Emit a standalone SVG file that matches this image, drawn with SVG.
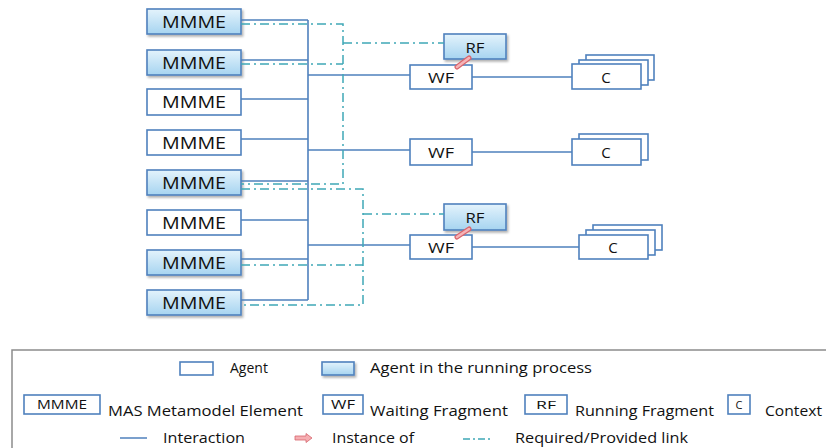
<svg xmlns="http://www.w3.org/2000/svg" width="826" height="448" viewBox="0 0 826 448">
<defs>
<linearGradient id="run" x1="0" y1="0" x2="0" y2="1">
<stop offset="0" stop-color="#e4f3fc"/>
<stop offset="1" stop-color="#a6d4f0"/>
</linearGradient>
<filter id="sh" x="-10%" y="-20%" width="130%" height="160%">
<feDropShadow dx="1.5" dy="2" stdDeviation="1.2" flood-color="#000" flood-opacity="0.3"/>
</filter>
</defs>
<style>
.box{fill:#fff;stroke:#4f81bd;stroke-width:1.6}
.rbox{fill:url(#run);stroke:#4f81bd;stroke-width:1.6;filter:url(#sh)}
.t{font-family:"Open Sans","Liberation Sans",sans-serif;fill:#111;text-anchor:middle}
.lt{font-family:"Open Sans","Liberation Sans",sans-serif;fill:#111;font-size:14px}
.ln{fill:none;stroke:#4f81bd;stroke-width:1.6}
.dd{fill:none;stroke:#3fa8b6;stroke-width:1.5;stroke-dasharray:9 4 2 4}
.io{stroke:#d9646c;stroke-width:5;stroke-linecap:round}
.ii{stroke:#f5b3b7;stroke-width:2.6;stroke-linecap:round}
</style>
<rect width="826" height="448" fill="#fff"/>

<g id="mmme1"><rect class="rbox" x="147" y="9" width="94" height="25"/><text class="t" x="194" y="28" font-size="16" textLength="64" lengthAdjust="spacingAndGlyphs">MMME</text></g>
<g id="mmme2"><rect class="rbox" x="147" y="50" width="94" height="25"/><text class="t" x="194" y="69" font-size="16" textLength="64" lengthAdjust="spacingAndGlyphs">MMME</text></g>
<g id="mmme3"><rect class="box" x="147" y="89" width="94" height="26"/><text class="t" x="194" y="108" font-size="16" textLength="64" lengthAdjust="spacingAndGlyphs">MMME</text></g>
<g id="mmme4"><rect class="box" x="147" y="130" width="94" height="25"/><text class="t" x="194" y="149" font-size="16" textLength="64" lengthAdjust="spacingAndGlyphs">MMME</text></g>
<g id="mmme5"><rect class="rbox" x="147" y="170" width="94" height="25"/><text class="t" x="194" y="189" font-size="16" textLength="64" lengthAdjust="spacingAndGlyphs">MMME</text></g>
<g id="mmme6"><rect class="box" x="147" y="210" width="94" height="25"/><text class="t" x="194" y="229" font-size="16" textLength="64" lengthAdjust="spacingAndGlyphs">MMME</text></g>
<g id="mmme7"><rect class="rbox" x="147" y="250" width="94" height="25"/><text class="t" x="194" y="269" font-size="16" textLength="64" lengthAdjust="spacingAndGlyphs">MMME</text></g>
<g id="mmme8"><rect class="rbox" x="147" y="290" width="94" height="25"/><text class="t" x="194" y="309" font-size="16" textLength="64" lengthAdjust="spacingAndGlyphs">MMME</text></g>

<g id="rf1"><rect class="rbox" x="444" y="34" width="62" height="25"/><text class="t" x="475" y="53" font-size="15" textLength="19" lengthAdjust="spacingAndGlyphs">RF</text></g>
<g id="wf1"><rect class="box" x="410" y="65" width="62" height="24"/><text class="t" x="441" y="83" font-size="15" textLength="26" lengthAdjust="spacingAndGlyphs">WF</text></g>
<g id="wf2"><rect class="box" x="410" y="139" width="62" height="26"/><text class="t" x="441" y="158" font-size="15" textLength="26" lengthAdjust="spacingAndGlyphs">WF</text></g>
<g id="rf2"><rect class="rbox" x="444" y="204" width="62" height="26"/><text class="t" x="475" y="223" font-size="15" textLength="19" lengthAdjust="spacingAndGlyphs">RF</text></g>
<g id="wf3"><rect class="box" x="410" y="235" width="62" height="24"/><text class="t" x="441" y="253" font-size="15" textLength="26" lengthAdjust="spacingAndGlyphs">WF</text></g>

<g id="c1">
<rect class="box" x="586" y="55" width="68" height="25"/>
<rect class="box" x="579" y="60" width="69" height="25"/>
<rect class="box" x="572" y="64" width="69" height="25"/>
<text class="t" x="606" y="83" font-size="15">C</text>
</g>
<g id="c2">
<rect class="box" x="579" y="134" width="69" height="26"/>
<rect class="box" x="572" y="139" width="69" height="26"/>
<text class="t" x="606" y="158" font-size="15">C</text>
</g>
<g id="c3">
<rect class="box" x="593" y="225" width="69" height="25"/>
<rect class="box" x="586" y="230" width="69" height="25"/>
<rect class="box" x="579" y="235" width="69" height="24"/>
<text class="t" x="613" y="253" font-size="15">C</text>
</g>

<g id="connectors">
<path class="ln" d="M241 20H308M241 60H308M241 99H308M241 139H308M241 181H308M241 220H308M241 259H308M241 300H308M308 20V300"/>
<path class="ln" d="M308 75H410M308 150H410M308 245H410"/>
<path class="ln" d="M472 77H572M472 152H572M472 247H579"/>
<path class="dd" d="M241 24H343V184H241M241 64H343M343 43H444"/>
<path class="dd" d="M241 189H363V305H241M241 265H363M363 214H444"/>
<line class="io" x1="469" y1="58" x2="457" y2="67"/>
<line class="ii" x1="469" y1="58" x2="457" y2="67"/>
<line class="io" x1="469" y1="229" x2="457" y2="237"/>
<line class="ii" x1="469" y1="229" x2="457" y2="237"/>
</g>

<g id="legend">
<path d="M12 449V350H827" fill="none" stroke="#8c8c8c" stroke-width="1.5"/>
<rect class="box" x="180" y="362" width="33" height="13" stroke-width="1.3"/>
<text class="lt" x="230" y="373">Agent</text>
<rect class="rbox" x="322" y="362" width="32" height="13" stroke-width="1.3"/>
<text class="lt" x="370" y="373" textLength="222" lengthAdjust="spacingAndGlyphs">Agent in the running process</text>

<rect class="box" x="24" y="395" width="76" height="19" stroke-width="1.3"/>
<text class="t" x="62" y="409" font-size="12" textLength="50" lengthAdjust="spacingAndGlyphs">MMME</text>
<text class="lt" x="108" y="416" textLength="195" lengthAdjust="spacingAndGlyphs">MAS Metamodel  Element</text>
<rect class="box" x="323" y="395" width="40" height="19" stroke-width="1.3"/>
<text class="t" x="343" y="409" font-size="12" textLength="24" lengthAdjust="spacingAndGlyphs">WF</text>
<text class="lt" x="370" y="416" textLength="138" lengthAdjust="spacingAndGlyphs">Waiting Fragment</text>
<rect class="box" x="525" y="395" width="42" height="19" stroke-width="1.3"/>
<text class="t" x="546" y="409" font-size="11" textLength="20" lengthAdjust="spacingAndGlyphs">RF</text>
<text class="lt" x="575" y="416" textLength="139" lengthAdjust="spacingAndGlyphs">Running Fragment</text>
<rect class="box" x="728" y="395" width="22" height="19" stroke-width="1.3"/>
<text class="t" x="739" y="409" font-size="11">C</text>
<text class="lt" x="765" y="416" textLength="57" lengthAdjust="spacingAndGlyphs">Context</text>

<line x1="120" y1="438" x2="147" y2="438" stroke="#4f81bd" stroke-width="1.5"/>
<text class="lt" x="163" y="443" textLength="82" lengthAdjust="spacingAndGlyphs">Interaction</text>
<path d="M295 436H306V433.5L312 438L306 442.5V440H295Z" fill="#f5aeb2" stroke="#d7646c" stroke-width="0.8"/>
<text class="lt" x="332" y="443" textLength="82" lengthAdjust="spacingAndGlyphs">Instance of</text>
<line x1="463" y1="439" x2="492" y2="439" stroke="#3fa8b6" stroke-width="1.3" stroke-dasharray="7 3 2 3"/>
<text class="lt" x="515" y="443" textLength="173" lengthAdjust="spacingAndGlyphs">Required/Provided  link</text>
</g>
</svg>
